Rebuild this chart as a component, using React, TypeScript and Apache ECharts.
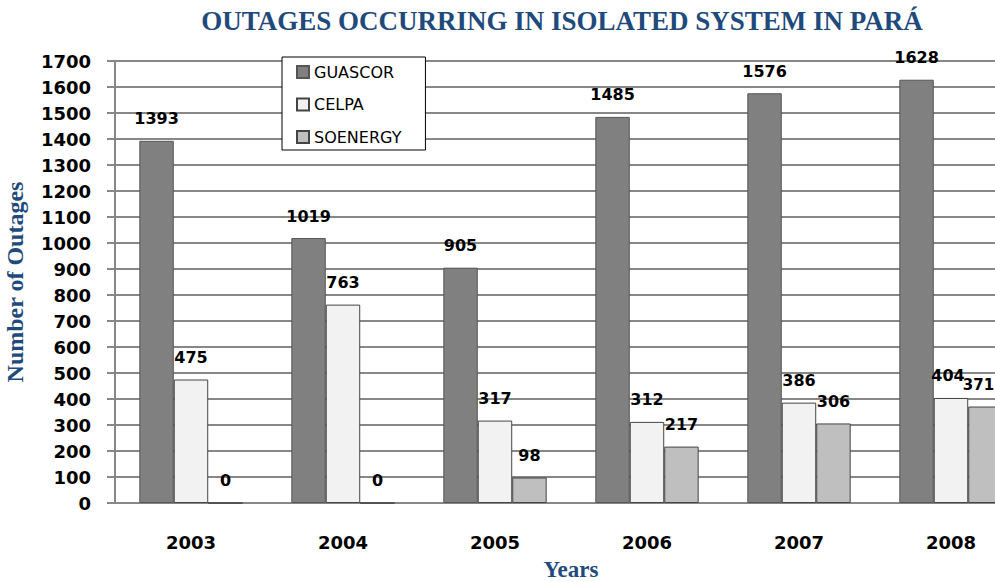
import React, { useEffect, useRef } from "react";
import * as echarts from "echarts";

const years = ["2003", "2004", "2005", "2006", "2007", "2008"];
const guascor = [1393, 1019, 905, 1485, 1576, 1628];
const celpa = [475, 763, 317, 312, 386, 404];
const soenergy = [0, 0, 98, 217, 306, 371];
const seriesNames = ["GUASCOR", "CELPA", "SOENERGY"];
const titleText = "OUTAGES OCCURRING IN ISOLATED SYSTEM IN PARÁ";

const GRID = "#878787";
const BLUE = "#1f4a7c";

export default function App() {
  const ref = useRef<HTMLDivElement>(null);
  useEffect(() => {
    if (!ref.current) return;
    const chart = echarts.init(ref.current, null, { renderer: "svg" });
    const label = {
      show: true,
      position: "top" as const,
      distance: 14,
      color: "#000",
      fontFamily: "DejaVu Sans",
      fontWeight: "bold" as const,
      fontSize: 16,
      formatter: "{c}",
    };
    const last = years.length - 1;
    const toData = (vals: number[], lastOffset: number[] | null, lastSize?: number) =>
      vals.map((v, i) =>
        i === last && lastOffset
          ? { value: v, label: { offset: lastOffset, ...(lastSize ? { fontSize: lastSize } : {}) } }
          : v
      );
    const mk = (name: string, data: any[], color: string, border: string) => ({
      name,
      type: "bar" as const,
      data,
      barGap: "0%",
      barCategoryGap: "32%",
      itemStyle: { color, borderColor: border, borderWidth: 1 },
      label,
    });
    chart.setOption({
      animation: false,
      backgroundColor: "#fff",
      graphic: [
        {
          type: "text",
          x: 562,
          y: 21,
          style: {
            text: titleText,
            align: "center",
            verticalAlign: "middle",
            textAlign: "center",
            textVerticalAlign: "middle",
            font: "bold 27px 'Liberation Serif'",
            fill: BLUE,
          },
        },
      ],
      legend: {
        orient: "vertical",
        left: 282,
        top: 57,
        data: seriesNames,
        backgroundColor: "#fff",
        borderColor: "#000",
        borderWidth: 1,
        padding: [7, 24, 5, 14],
        itemWidth: 12,
        itemHeight: 12,
        itemGap: 16.5,
        icon: "rect",
        textStyle: {
          fontFamily: "DejaVu Sans",
          fontSize: 16,
          lineHeight: 16,
          color: "#000",
        },
      },
      grid: {
        left: 115,
        top: 61,
        width: 912,
        height: 442,
        containLabel: false,
        outerBoundsMode: "none",
      },
      xAxis: {
        type: "category",
        data: years,
        name: "Years",
        nameLocation: "middle",
        nameGap: 55,
        nameTextStyle: {
          fontFamily: "Liberation Serif",
          fontWeight: "bold",
          fontSize: 23,
          color: BLUE,
        },
        axisLine: { lineStyle: { color: GRID, width: 2 } },
        axisTick: { show: false },
        axisLabel: {
          margin: 30,
          fontFamily: "DejaVu Sans",
          fontWeight: "bold",
          fontSize: 18,
          color: "#000",
        },
      },
      yAxis: {
        type: "value",
        min: 0,
        max: 1700,
        interval: 100,
        name: "Number of Outages",
        nameLocation: "middle",
        nameGap: 88,
        nameTextStyle: {
          fontFamily: "Liberation Serif",
          fontWeight: "bold",
          fontSize: 24,
          color: BLUE,
        },
        axisLine: { show: true, lineStyle: { color: GRID, width: 2 } },
        axisTick: { show: true, length: 8, lineStyle: { color: GRID, width: 2 } },
        splitLine: { show: true, lineStyle: { color: GRID, width: 2 } },
        axisLabel: {
          margin: 24,
          fontFamily: "DejaVu Sans",
          fontWeight: "bold",
          fontSize: 18,
          color: "#000",
          formatter: (v: number) => String(v),
        },
      },
      series: [
        mk(seriesNames[0], toData(guascor, null), "#808080", "#555555"),
        mk(seriesNames[1], toData(celpa, [-3, 0]), "#f2f2f2", "#444444"),
        mk(seriesNames[2], toData(soenergy, [-7, 0], 15), "#bfbfbf", "#444444"),
      ],
    });
    return () => chart.dispose();
  }, []);
  return (
    <div
      ref={ref}
      style={{ position: "fixed", left: 0, top: 0, width: 995, height: 582 }}
    />
  );
}
